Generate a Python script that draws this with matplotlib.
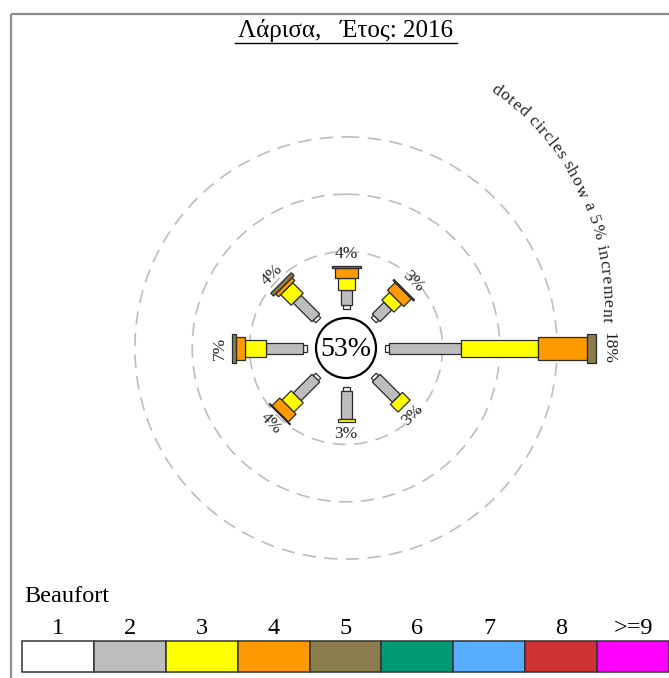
import numpy as np
import matplotlib
matplotlib.use("Agg")
import matplotlib.pyplot as plt
from matplotlib.patches import Polygon, Circle, Rectangle
from matplotlib.textpath import TextToPath
from matplotlib.font_manager import FontProperties

plt.rcParams['font.family'] = ['Liberation Serif', 'DejaVu Serif']

# data: percentage of time per direction, split by Beaufort class (1..5)
directions = ['N', 'NE', 'E', 'SE', 'S', 'SW', 'W', 'NW']
angles = [90, 45, 0, -45, -90, -135, 180, 135]
bf1 = [0.3, 0.3, 0.3, 0.3, 0.3, 0.3, 0.3, 0.3]
bf2 = [1.3, 1.45, 6.3, 2.5, 2.45, 2.3, 3.3, 2.3]
bf3 = [1.05, 0.95, 6.7, 0.95, 0.3, 1.15, 1.75, 1.3]
bf4 = [0.95, 0.95, 4.3, 0.0, 0.0, 0.95, 0.87, 0.35]
bf5 = [0.12, 0.12, 0.8, 0.0, 0.0, 0.08, 0.35, 0.35]
dir_labels = ['4%', '3%', '18%', '3%', '3%', '4%', '7%', '4%']
calm = '53%'
title = 'Λάρισα,   Έτος: 2016'
note = 'doted circles show a 5% increment'
ring_steps = [5, 10, 15]

beaufort_labels = ['1', '2', '3', '4', '5', '6', '7', '8', '>=9']
beaufort_colors = ['#ffffff', '#bdbdbd', '#ffff00', '#ff9a00', '#8a7c4c',
                   '#009a74', '#58adff', '#cf3232', '#ff00ff']
seg_width = [7, 11, 17, 23, 29]

W, H = 669, 678
fig = plt.figure(figsize=(W / 100, H / 100), dpi=100)
ax = fig.add_axes([0, 0, 1, 1])
ax.set_xlim(0, W)
ax.set_ylim(H, 0)
ax.axis('off')

cx, cy = 346, 348
r0 = 39.2      # radius where 0% starts
k = 11.46      # pixels per percent

# frame
ax.plot([11, W], [14, 14], color='#8c8c8c', lw=1.6, solid_capstyle='butt')
ax.plot([11, 11], [14, H], color='#8c8c8c', lw=1.6, solid_capstyle='butt')

# title
ax.text(346, 31, title, fontsize=18, ha='center', va='center')
ax.plot([235, 457], [43, 43], color='black', lw=1.0)

# dashed rings
for p in ring_steps:
    ax.add_patch(Circle((cx, cy), r0 + p * k, fill=False, ec='#bdbdbd',
                        lw=1.2, ls=(0, (8, 5)), zorder=1))

# bars
segs = np.array([bf1, bf2, bf3, bf4, bf5]).T
c = np.array([cx, cy])
for ang, vals, lab in zip(angles, segs, dir_labels):
    t = np.deg2rad(ang)
    u = np.array([np.cos(t), -np.sin(t)])
    nrm = np.array([np.sin(t), np.cos(t)])
    r = r0
    for b, pct in enumerate(vals):
        if pct <= 0:
            continue
        r1 = r + pct * k
        hw = seg_width[b] / 2
        p0 = c + u * r
        p1 = c + u * r1
        poly = [p0 + nrm * hw, p1 + nrm * hw, p1 - nrm * hw, p0 - nrm * hw]
        ax.add_patch(Polygon(poly, closed=True, fc=beaufort_colors[b],
                             ec='#2a2a2a', lw=0.9, zorder=3))
        r = r1
    rot = ang - 90
    if rot < -90:
        rot += 180
    lp = c + u * (r + 12)
    ax.text(lp[0], lp[1], lab, fontsize=12.5, rotation=rot,
            rotation_mode='anchor', ha='center', va='center', zorder=4,
            color='#222222')

# calm circle
ax.add_patch(Circle((cx, cy), 30, fc='white', ec='black', lw=1.6, zorder=3))
ax.text(cx, cy + 1, calm, fontsize=20, ha='center', va='center', zorder=4)

# curved note
fp = FontProperties(family='Liberation Serif', size=12.5)
ttp = TextToPath()
base = ttp.get_text_width_height_descent('xx', fp, ismath=False)[0]
cw = [ttp.get_text_width_height_descent('x' + ch + 'x', fp, ismath=False)[0] - base
      for ch in note]
cw = np.array(cw)
centers = np.cumsum(cw) - cw / 2
a_start, a_end = 54.5, -3.5
ncx, ncy, nr = 344, 304, 263
for ch, s in zip(note, centers):
    a = a_start + (a_end - a_start) * (s - centers[0]) / (centers[-1] - centers[0])
    ta = np.deg2rad(a)
    x = ncx + nr * np.cos(ta)
    y = ncy - nr * np.sin(ta)
    ax.text(x, y, ch, fontproperties=fp, rotation=a - 90,
            rotation_mode='anchor', ha='center', va='center', color='#222222')

# Beaufort legend
ax.text(24, 597, 'Beaufort', fontsize=17.5, ha='left', va='center')
bw = (W - 22) / len(beaufort_labels)
for i, (lab, col) in enumerate(zip(beaufort_labels, beaufort_colors)):
    x0 = 22 + i * bw
    ax.add_patch(Rectangle((x0, 641), bw, 31, fc=col, ec='#333333', lw=1.1))
    ax.text(x0 + bw / 2, 628, lab, fontsize=17.5, ha='center', va='center')

fig.savefig('out.png', dpi=100)
